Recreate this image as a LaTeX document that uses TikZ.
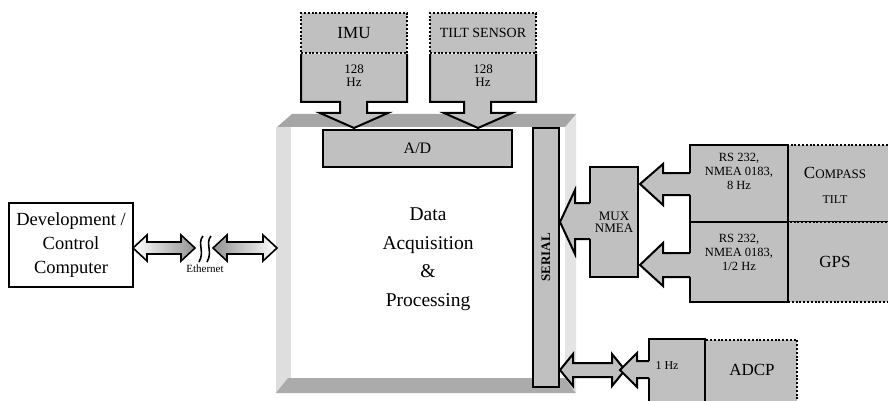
\documentclass[tikz,border=0pt]{standalone}
\usepackage{fontspec}
\setmainfont{Liberation Serif}
\definecolor{boxgray}{HTML}{C0C0C0}
\definecolor{topbev}{HTML}{A6A6A6}
\definecolor{leftbev}{HTML}{DEDEDE}
\definecolor{botbev}{HTML}{ABABAB}
\definecolor{rightbev}{HTML}{E4E4E4}
\newcommand{\fs}[1]{\fontsize{#1}{#1}\selectfont}
\tikzset{
  solidbox/.style={draw=black, line width=2pt, fill=boxgray, inner sep=0pt, align=center},
  dotbox/.style={draw=black, line width=2.4pt, dash pattern=on 2pt off 1.8pt, fill=boxgray, inner sep=0pt, align=center},
  whitebox/.style={draw=black, line width=2pt, fill=white, inner sep=0pt, align=center},
  arrowline/.style={draw=black, line width=2pt, line join=miter},
  lbl/.style={inner sep=0pt, align=center},
}
\begin{document}
\begin{tikzpicture}[x=1pt,y=-1pt]
\useasboundingbox (0,0) rectangle (888,401);
\clip (0,0) rectangle (888,401);

% ---- main processing block with bevels
\fill[leftbev] (276,127) rectangle (291,393);
\fill[botbev] (276,393) -- (288,378) -- (565,378) -- (576,393) -- cycle;
\fill[rightbev] (565,127) -- (576,114) -- (576,393) -- (565,378) -- cycle;
\fill[topbev] (277,127) -- (292,114) -- (576,114) -- (565,127) -- cycle;
\node[fill=white, inner sep=0pt, minimum width=274pt, minimum height=251pt] (dap) at (428,252.5) {};
\node[lbl, font=\fontsize{19.5}{28.5}\selectfont] (daptext) at (428,259) {Data\\Acquisition\\\&\\Processing};

\node[solidbox, minimum width=189pt, minimum height=37pt, font=\fs{16}] (ad) at (417.5,148.5) {A/D};
\node[solidbox, minimum width=26pt, minimum height=259pt] (serial) at (546,257.5) {};
\node[lbl, rotate=90, font=\bfseries\fs{13}] (serialtext) at (serial.center) {SERIAL};

% ---- IMU and tilt sensor
\node[dotbox, minimum width=106pt, minimum height=40pt, font=\fs{17}] (imu) at (354,33) {IMU};
\node[dotbox, minimum width=106pt, minimum height=40pt, font=\fs{14}] (tilt) at (483,33) {TILT SENSOR};

\fill[boxgray] (301,54) -- (301,102) -- (340,102) -- (340,113) -- (320,113) -- (354,128) -- (388,113) -- (367,113) -- (367,102) -- (407,102) -- (407,54) -- cycle;
\draw[arrowline] (301,54) -- (301,102) -- (340,102) -- (340,113) -- (320,113) -- (354,128) -- (388,113) -- (367,113) -- (367,102) -- (407,102) -- (407,54);
\node[lbl, font=\fontsize{13}{13}\selectfont] (imurate) at (354,76) {128\\Hz};

\fill[boxgray] (430,54) -- (430,102) -- (464,102) -- (464,113) -- (444,113) -- (478,128) -- (512,113) -- (491,113) -- (491,102) -- (536,102) -- (536,54) -- cycle;
\draw[arrowline] (430,54) -- (430,102) -- (464,102) -- (464,113) -- (444,113) -- (478,128) -- (512,113) -- (491,113) -- (491,102) -- (536,102) -- (536,54);
\node[lbl, font=\fontsize{13}{13}\selectfont] (tiltrate) at (483,76) {128\\Hz};

% ---- development computer and ethernet
\node[whitebox, minimum width=124pt, minimum height=84pt, font=\fontsize{18.5}{24}\selectfont] (dev) at (71,245) {Development /\\Control\\Computer};

\path[arrowline, line width=1.6pt, left color=white, right color=gray!85] (133,248) -- (147,235) -- (147,242) -- (181,242) -- (181,235) -- (195,248) -- (181,261) -- (181,254) -- (147,254) -- (147,261) -- cycle;
\path[arrowline, line width=1.6pt, left color=gray!85, right color=white] (213,248) -- (227,235) -- (227,242) -- (263,242) -- (263,235) -- (277,248) -- (263,261) -- (263,254) -- (227,254) -- (227,261) -- cycle;
\draw[line width=1.6pt] (203,236) .. controls (197,243) and (205,252) .. (199,262);
\draw[line width=1.6pt] (211,236) .. controls (205,243) and (213,252) .. (207,262);
\node[lbl, font=\fs{11}] (eth) at (205,269) {Ethernet};

% ---- compass / GPS
\node[dotbox, minimum width=112pt, minimum height=77pt] (compass) at (844,183.5) {};
\node[dotbox, minimum width=112pt, minimum height=80pt] (gps) at (844,262) {};
\node[lbl, font=\fs{17}] (compasstext) at (835,173) {C{\fs{13}OMPASS}};
\node[lbl, font=\fs{12}] (compasstilt) at (835,200) {TILT};
\node[lbl, font=\fs{17}] (gpstext) at (835,262) {GPS};

\node[solidbox, minimum width=98pt, minimum height=77pt] (rs1) at (739,183.5) {};
\node[solidbox, minimum width=98pt, minimum height=80pt] (rs2) at (739,262) {};
\node[lbl, font=\fontsize{12.5}{14}\selectfont] (rs1text) at (739,171) {RS 232,\\NMEA 0183,\\8 Hz};
\node[lbl, font=\fontsize{12.5}{14}\selectfont] (rs2text) at (739,252) {RS 232,\\NMEA 0183,\\1/2 Hz};

\node[solidbox, minimum width=48pt, minimum height=110pt, font=\fontsize{13}{12.5}\selectfont] (mux) at (614,222) {MUX\\NMEA};

% arrows into MUX
\fill[boxgray] (692,173) -- (663,173) -- (663,164) -- (640,184) -- (663,205) -- (663,195) -- (692,195) -- cycle;
\draw[arrowline] (690,173) -- (663,173) -- (663,164) -- (640,184) -- (663,205) -- (663,195) -- (690,195);
\fill[boxgray] (692,253) -- (663,253) -- (663,243) -- (640,265) -- (663,286) -- (663,277) -- (692,277) -- cycle;
\draw[arrowline] (690,253) -- (663,253) -- (663,243) -- (640,265) -- (663,286) -- (663,277) -- (690,277);

% MUX to serial
\fill[boxgray] (592,203) -- (575,203) -- (575,190) -- (560,222) -- (575,254) -- (575,239) -- (592,239) -- cycle;
\draw[arrowline] (590,203) -- (575,203) -- (575,190) -- (560,222) -- (575,254) -- (575,239) -- (590,239);

% ---- ADCP
\node[dotbox, minimum width=92pt, minimum height=70pt] (adcp) at (751,375) {};
\node[solidbox, minimum width=56pt, minimum height=72pt] (onehz) at (677,375) {};
\node[lbl, font=\fs{12}] (onehztext) at (667,366) {1 Hz};
\node[lbl, font=\fs{17}] (adcptext) at (752,370) {ADCP};

\path[arrowline, fill=boxgray] (560,370) -- (573,354) -- (573,363) -- (612,363) -- (612,354) -- (625,370) -- (612,386) -- (612,377) -- (573,377) -- (573,386) -- cycle;
\fill[boxgray] (651,361) -- (637,361) -- (637,353) -- (620,370) -- (637,387) -- (637,378) -- (651,378) -- cycle;
\draw[arrowline] (649,361) -- (637,361) -- (637,353) -- (620,370) -- (637,387) -- (637,378) -- (649,378);
\end{tikzpicture}
\end{document}
